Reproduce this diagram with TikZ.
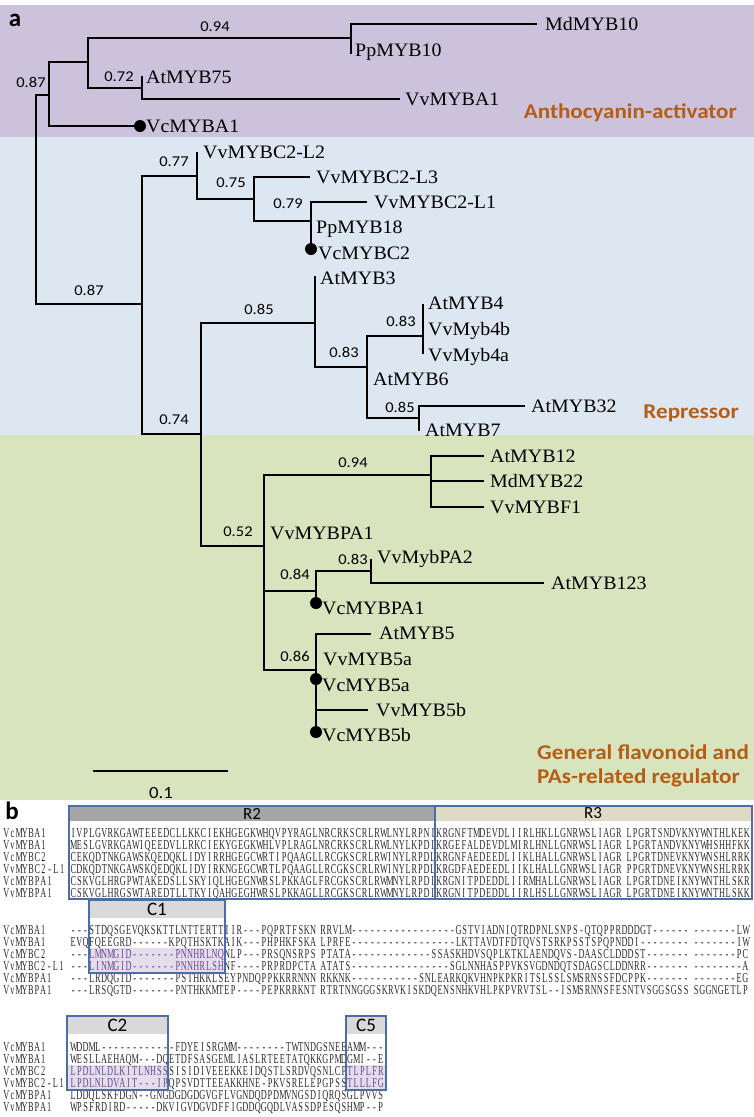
\documentclass[tikz,border=0pt]{standalone}
\usepackage{fontspec}
\setmainfont{Liberation Serif}
\newfontfamily\leaffont[FakeStretch=1.05]{Liberation Serif}
\newfontfamily\numfont[FakeStretch=1.1]{Carlito}
\newfontfamily\seqfont[FakeStretch=0.61]{Liberation Serif}
\newfontfamily\hdrfont{Carlito}
\ExplSyntaxOn
\dim_new:N \l_seqp_dim
\NewDocumentCommand \SetPitch {m} { \dim_set:Nn \l_seqp_dim {#1} }
\NewDocumentCommand \Sq {m}
 {
  \exp_args:Nx \str_map_inline:nn {#1}
   {
    \str_if_eq:nnTF {##1} {.}
     { \hbox_to_wd:nn {4pt} { } }
     { \hbox_to_wd:nn { \l_seqp_dim } { \hfil ##1 \hfil } }
   }
 }
\ExplSyntaxOff
\definecolor{purpbg}{RGB}{205,194,220}
\definecolor{bluebg}{RGB}{221,231,242}
\definecolor{greenbg}{RGB}{216,228,190}
\definecolor{cattxt}{RGB}{180,93,20}
\definecolor{boxc}{RGB}{74,110,165}
\definecolor{hdrR2}{RGB}{166,166,166}
\definecolor{hdrR3}{RGB}{222,218,198}
\definecolor{hdrC}{RGB}{217,217,217}
\definecolor{hlfill}{RGB}{228,221,236}
\definecolor{hltxt}{RGB}{105,70,145}
\definecolor{seqtxt}{RGB}{40,40,40}
\tikzset{
  br/.style={line width=2.4pt, line cap=rect, line join=miter},
  leaf/.style={anchor=west, inner sep=0pt, font=\leaffont\fontsize{19}{22}\selectfont, text height=12.5pt, text depth=0pt},
  bs/.style={inner sep=0pt, font=\numfont\fontsize{15}{18}\selectfont},
  dotn/.style={circle, fill=black, inner sep=0pt, minimum size=12pt},
  cat/.style={inner sep=0pt, text=cattxt, font=\numfont\bfseries\fontsize{21}{24}\selectfont},
  panel/.style={inner sep=0pt, font=\hdrfont\bfseries\fontsize{25}{27}\selectfont},
  seqA/.style={anchor=west, inner sep=0pt, text=seqtxt, text height=9pt, text depth=0pt,
     font=\seqfont\fontsize{13.6}{14}\selectfont\SetPitch{6.2pt}},
  seqB/.style={anchor=west, inner sep=0pt, text=seqtxt, text height=9pt, text depth=0pt,
     font=\seqfont\fontsize{13.6}{14}\selectfont\SetPitch{6.15pt}},
  hdr/.style={inner sep=0pt, font=\hdrfont\fontsize{17}{20}\selectfont},
  boxline/.style={draw=boxc, line width=1.2pt},
}
\newcommand{\hl}[1]{\textcolor{hltxt}{\Sq{#1}}}
\begin{document}
\begin{tikzpicture}[x=1pt,y=-1pt]
\useasboundingbox (0,0) rectangle (754,1117);
% ---------- backgrounds ----------
\fill[purpbg] (0,5) rectangle (754,137);
\fill[bluebg] (0,137) rectangle (754,435);
\fill[greenbg] (0,435) rectangle (754,800);
\node[panel] (pa) at (15,20) {a};
% ---------- tree coordinates ----------
\coordinate (R-t) at (36,95);   \coordinate (R-b) at (36,304);
\coordinate (N1-t) at (49,62);  \coordinate (N1-b) at (49,126);
\coordinate (N2-t) at (88,38);  \coordinate (N2-b) at (88,88);
\coordinate (N3-t) at (351,24); \coordinate (N3-b) at (351,53);
\coordinate (N4-t) at (142,77); \coordinate (N4-b) at (142,99);
\coordinate (N5-t) at (142,176); \coordinate (N5-b) at (142,434);
\coordinate (N6-t) at (197,153); \coordinate (N6-b) at (197,199);
\coordinate (N7-t) at (254,177); \coordinate (N7-b) at (254,221);
\coordinate (N8-t) at (311,202); \coordinate (N8-b) at (311,249);
\coordinate (N9-t) at (201,323); \coordinate (N9-b) at (201,546);
\coordinate (N10-t) at (315,277); \coordinate (N10-b) at (315,367);
\coordinate (N11-t) at (367,336); \coordinate (N11-b) at (367,418);
\coordinate (N12-t) at (423,305); \coordinate (N12-b) at (423,353);
\coordinate (N13-t) at (419,406); \coordinate (N13-b) at (419,430);
\coordinate (N14-t) at (264,475); \coordinate (N14-b) at (264,670);
\coordinate (N15-t) at (431,456); \coordinate (N15-b) at (431,507);
\coordinate (N16-j) at (316,591);
\coordinate (N16-t) at (316,571); \coordinate (N16-b) at (316,603);
\coordinate (N17-t) at (371,560); \coordinate (N17-b) at (371,583);
\coordinate (N18-t) at (316,634); \coordinate (N18-b) at (316,732);
\coordinate (d-VcMYB5a) at (316,679);
\coordinate (e-MdMYB10) at (536,24);
\coordinate (e-VvMYBA1) at (399,99);
\coordinate (e-VcMYBA1) at (140,126);
\coordinate (e-L3) at (309,177);
\coordinate (e-L1) at (366,202);
\coordinate (e-AtMYB32) at (524,406);
\coordinate (e-AtMYB12) at (483,456);
\coordinate (e-MdMYB22) at (483,481);
\coordinate (e-VvMYBF1) at (483,507);
\coordinate (e-AtMYB123) at (543,583);
\coordinate (e-AtMYB5) at (370,634);
\coordinate (e-VvMYB5b) at (367,710);
% ---------- branches ----------
\draw[br] (N1-t |- R-t) -- (R-t) -- (R-b) -- (N5-t |- R-b);
\draw[br] (N2-t |- N1-t) -- (N1-t) -- (N1-b) -- (e-VcMYBA1);
\draw[br] (N3-t |- N2-t) -- (N2-t) -- (N2-b) -- (N4-t |- N2-b);
\draw[br] (e-MdMYB10) -- (N3-t) -- (N3-b);
\draw[br] (N4-t) -- (N4-b) -- (e-VvMYBA1);
\draw[br] (N6-t |- N5-t) -- (N5-t) -- (N5-b) -- (N9-t |- N5-b);
\draw[br] (N6-t) -- (N6-b) -- (N7-t |- N6-b);
\draw[br] (e-L3) -- (N7-t) -- (N7-b) -- (N8-t |- N7-b);
\draw[br] (e-L1) -- (N8-t) -- (N8-b);
\draw[br] (N10-t |- N9-t) -- (N9-t) -- (N9-b) -- (N14-t |- N9-b);
\draw[br] (N10-t) -- (N10-b) -- (N11-t |- N10-b);
\draw[br] (N12-t |- N11-t) -- (N11-t) -- (N11-b) -- (N13-t |- N11-b);
\draw[br] (N12-t) -- (N12-b);
\draw[br] (e-AtMYB32) -- (N13-t) -- (N13-b);
\draw[br] (N15-t |- N14-t) -- (N14-t) -- (N14-b) -- (N18-t |- N14-b);
\draw[br] (N14-t |- N16-j) -- (N16-j);
\draw[br] (e-AtMYB12) -- (N15-t) -- (N15-b) -- (e-VvMYBF1);
\draw[br] (N15-t |- e-MdMYB22) -- (e-MdMYB22);
\draw[br] (N17-t |- N16-t) -- (N16-t) -- (N16-b);
\draw[br] (N17-t) -- (N17-b) -- (e-AtMYB123);
\draw[br] (e-AtMYB5) -- (N18-t) -- (N18-b);
\draw[br] (N18-t |- e-VvMYB5b) -- (e-VvMYB5b);
\node[dotn] (dot1) at (e-VcMYBA1) {};
\node[dotn] (dot2) at (N8-b) {};
\node[dotn] (dot3) at (N16-b) {};
\node[dotn] (dot4) at (d-VcMYB5a) {};
\node[dotn] (dot5) at (N18-b) {};
% ---------- leaves ----------
\node[leaf] (MdMYB10) at (545,24) {MdMYB10};
\node[leaf] (PpMYB10) at (355,50) {PpMYB10};
\node[leaf] (AtMYB75) at (146,77) {AtMYB75};
\node[leaf] (VvMYBA1) at (405,99) {VvMYBA1};
\node[leaf] (VcMYBA1) at (146,126) {VcMYBA1};
\node[leaf] (VvMYBC2L2) at (203,152) {VvMYBC2-L2};
\node[leaf] (VvMYBC2L3) at (316,177) {VvMYBC2-L3};
\node[leaf] (VvMYBC2L1) at (374,202) {VvMYBC2-L1};
\node[leaf] (PpMYB18) at (316,227) {PpMYB18};
\node[leaf] (VcMYBC2) at (318,253) {VcMYBC2};
\node[leaf] (AtMYB3) at (320,278) {AtMYB3};
\node[leaf] (AtMYB4) at (428,303) {AtMYB4};
\node[leaf] (VvMyb4b) at (428,329) {VvMyb4b};
\node[leaf] (VvMyb4a) at (428,355) {VvMyb4a};
\node[leaf] (AtMYB6) at (373,379) {AtMYB6};
\node[leaf] (AtMYB32) at (531,406) {AtMYB32};
\node[leaf] (AtMYB7) at (425,430) {AtMYB7};
\node[leaf] (AtMYB12) at (490,456) {AtMYB12};
\node[leaf] (MdMYB22) at (490,481) {MdMYB22};
\node[leaf] (VvMYBF1) at (490,507) {VvMYBF1};
\node[leaf] (VvMYBPA1) at (270,533) {VvMYBPA1};
\node[leaf] (VvMybPA2) at (377,557) {VvMybPA2};
\node[leaf] (AtMYB123) at (551,583) {AtMYB123};
\node[leaf] (VcMYBPA1) at (322,608) {VcMYBPA1};
\node[leaf] (AtMYB5) at (379,633) {AtMYB5};
\node[leaf] (VvMYB5a) at (323,659) {VvMYB5a};
\node[leaf] (VcMYB5a) at (322,685) {VcMYB5a};
\node[leaf] (VvMYB5b) at (376,710) {VvMYB5b};
\node[leaf] (VcMYB5b) at (322,735) {VcMYB5b};
% ---------- support values ----------
\node[bs] (b1) at (215,27) {0.94};
\node[bs] (b2) at (31,82) {0.87};
\node[bs] (b3) at (119,77) {0.72};
\node[bs] (b4) at (89,290) {0.87};
\node[bs] (b5) at (174,162) {0.77};
\node[bs] (b6) at (231,183) {0.75};
\node[bs] (b7) at (288,204) {0.79};
\node[bs] (b8) at (259,309) {0.85};
\node[bs] (b9) at (344,352) {0.83};
\node[bs] (b10) at (401,321) {0.83};
\node[bs] (b11) at (400,407) {0.85};
\node[bs] (b12) at (174,420) {0.74};
\node[bs] (b13) at (238,532) {0.52};
\node[bs] (b14) at (353,463) {0.94};
\node[bs] (b15) at (295,574) {0.84};
\node[bs] (b16) at (353,559) {0.83};
\node[bs] (b17) at (295,656) {0.86};
% ---------- categories ----------
\node[cat, anchor=east] (cat1) at (737,113) {Anthocyanin-activator};
\node[cat, anchor=east] (cat2) at (739,413) {Repressor};
\node[cat, anchor=west] (cat3a) at (537,752) {General flavonoid and};
\node[cat, anchor=west] (cat3b) at (537,778) {PAs-related regulator};
% ---------- scale bar ----------
\coordinate (sb-l) at (94,771); \coordinate (sb-r) at (227,771);
\draw[br] (sb-l) -- (sb-r);
\node[bs, font=\numfont\fontsize{17}{20}\selectfont] (sbl) at (161,793) {0.1};
% ================= panel b =================
\node[panel] (pb) at (12,811) {b};
% block 1 headers
\fill[hdrR2] (69,806) rectangle (435,821);
\fill[hdrR3] (435,806) rectangle (752,821);
\node[hdr] (R2) at (252,813.5) {R2};
\node[hdr] (R3) at (593,813.5) {R3};
% block 1 names and sequences
\foreach \nm/\yy in {VcMYBA1/833, VvMYBA1/845, VcMYBC2/857, VvMYBC2-L1/869, VcMYBPA1/881, VvMYBPA1/893}{
  \node[seqA] (n1-\nm) at (3,\yy) {\Sq{\nm}};
}
\node[seqA] (s1-1) at (70,833) {\Sq{IVPLGVRKGAWTEEEDCLLKKCIEKHGEGKWHQVPYRAGLNRCRKSCRLRWLNYLRPNIKRGNFTMDEVDLIIRLHKLLGNRWSLIAGR.LPGRTSNDVKNYWNTHLKEK}};
\node[seqA] (s1-2) at (70,845) {\Sq{MESLGVRKGAWIQEEDVLLRKCIEKYGEGKWHLVPLRAGLNRCRKSCRLRWLNYLKPDIKRGEFALDEVDLMIRLHNLLGNRWSLIAGR.LPGRTANDVKNYWHSHHFKK}};
\node[seqA] (s1-3) at (70,857) {\Sq{CEKQDTNKGAWSKQEDQKLIDYIRRHGEGCWRTIPQAAGLLRCGKSCRLRWINYLRPDLKRGNFAEDEEDLIIKLHALLGNRWSLIAGR.LPGRTDNEVKNYWNSHLRRK}};
\node[seqA] (s1-4) at (70,869) {\Sq{CDKQDTNKGAWSKQEDQKLIDYIRKNGEGCWRTLPQAAGLLRCGKSCRLRWINYLRPDLKRGDFAEDEEDLIIKLHALLGNRWSLIAGR.PPGRTDNEVKNYWNSHLRRK}};
\node[seqA] (s1-5) at (70,881) {\Sq{CSKVGLHRGPWTAKEDSLLSKYIQLHGEGNWRSLPKKAGLFRCGKSCRLRWMNYLRPDIKRGNITPDEDDLIIRMHALLGNRWSLIAGR.LPGRTDNEIKNYWNTHLSKR}};
\node[seqA] (s1-6) at (70,893) {\Sq{CSKVGLHRGSWTAREDTLLTKYIQAHGEGHWRSLPKKAGLLRCGKSCRLRWMNYLRPDIKRGNITPDEDDLIIRLHSLLGNRWSLIAGR.LPGRTDNEIKNYWNTHLSKK}};
\draw[boxline] (69,806) rectangle (435,899);
\draw[boxline] (435,806) rectangle (752,899);
% block 2
\fill[hdrC] (89,900) rectangle (225,918);
\fill[hlfill] (89,948) rectangle (225,972);
\node[hdr, font=\hdrfont\fontsize{19}{22}\selectfont] (C1) at (157,909) {C1};
\foreach \nm/\yy in {VcMYBA1/930, VvMYBA1/942, VcMYBC2/954, VvMYBC2-L1/966, VcMYBPA1/978, VvMYBPA1/990}{
  \node[seqB] (n2-\nm) at (3,\yy) {\Sq{\nm}};
}
\node[seqB] (s2-1) at (70,930) {\Sq{---STDQSGEVQKSKTTLNTTERTTIIR---PQPRTFSKN.RRVLM-----------------GSTVIADNIQTRDPNLSNPS-QTQPPRDDDGT------.-------LW}};
\node[seqB] (s2-2) at (70,942) {\Sq{EVQFQEEGRD------KPQTHSKTKAIK---PHPHKFSKA.LPRFE-----------------LKTTAVDTFDTQVSTSRKPSSTSPQPNDDI--------.-------IW}};
\node[seqB] (s2-3) at (70,954) {\Sq{---}\hl{LMNMGID-------PNNHRLNQ}\Sq{NLP---PRSQNSRPS.PTATA-------------SSASKHDVSQPLKTKLAENDQVS-DAASCLDDDST-------.-------PC}};
\node[seqB] (s2-4) at (70,966) {\Sq{---}\hl{LINMGID-------PNNHRLSH}\Sq{NF----PRPRDPCTA.ATATS----------------SGLNNHASPPVKSVGDNDQTSDAGSCLDDNRR-------.--------A}};
\node[seqB] (s2-5) at (70,978) {\Sq{---LRDQGTD-------PSTHKKLSEYPNDQPPKKRRNNN.RKKNK-----------SNLEARKQKVHNPKPKRITSLSSLSMSRNSSFDCPPK-------.-------EG}};
\node[seqB] (s2-6) at (70,990) {\Sq{---LRSQGTD-------PNTHKKMTEP----PEPKRRKNT.RTRTNNGGGSKRVKISKDQENSNHKVHLPKPVRVTSL--ISMSRNNSFESNTVSGGSGSS.SGGNGETLP}};
\draw[boxline] (89,900) rectangle (225,973);
% block 3
\fill[hdrC] (67,1016) rectangle (168,1034);
\fill[hdrC] (346,1016) rectangle (386,1034);
\fill[hlfill] (67,1065) rectangle (168,1089);
\fill[hlfill] (346,1065) rectangle (386,1089);
\node[hdr, font=\hdrfont\fontsize{19}{22}\selectfont] (C2) at (117.5,1025) {C2};
\node[hdr, font=\hdrfont\fontsize{19}{22}\selectfont] (C5) at (366,1025) {C5};
\foreach \nm/\yy in {VcMYBA1/1047, VvMYBA1/1059, VcMYBC2/1071, VvMYBC2-L1/1083, VcMYBPA1/1095, VvMYBPA1/1107}{
  \node[seqB] (n3-\nm) at (3,\yy) {\Sq{\nm}};
}
\node[seqB] (s3-1) at (70,1047) {\Sq{WDDML------------FDYEISRGMM--------TWTNDGSNEEAMM---}};
\node[seqB] (s3-2) at (70,1059) {\Sq{WESLLAEHAQM---DQETDFSASGEMLIASLRTEETATQKKGPMDGMI--E}};
\node[seqB] (s3-3) at (70,1071) {\hl{LPDLNLDLKITLNHSS}\Sq{SISIDIVEEEKKEIDQSTLSRDVQSNLCP}\hl{TLPLFR}};
\node[seqB] (s3-4) at (70,1083) {\hl{LPDLNLDVAIT---IP}\Sq{QPSVDTTEEAKKHNE-PKVSRELEPGPSS}\hl{TLLLFG}};
\node[seqB] (s3-5) at (70,1095) {\Sq{LDDQLSKFDGN--GNGDGDGDGVGFLVGNDQDPDMVNGSDIQRQSGLPVVS}};
\node[seqB] (s3-6) at (70,1107) {\Sq{WPSFRDIRD-----DKVIGVDGVDFFIGDDQGQDLVASSDPESQSHMP--P}};
\draw[boxline] (67,1016) rectangle (168,1090);
\draw[boxline] (346,1016) rectangle (386,1090);
\end{tikzpicture}
\end{document}
